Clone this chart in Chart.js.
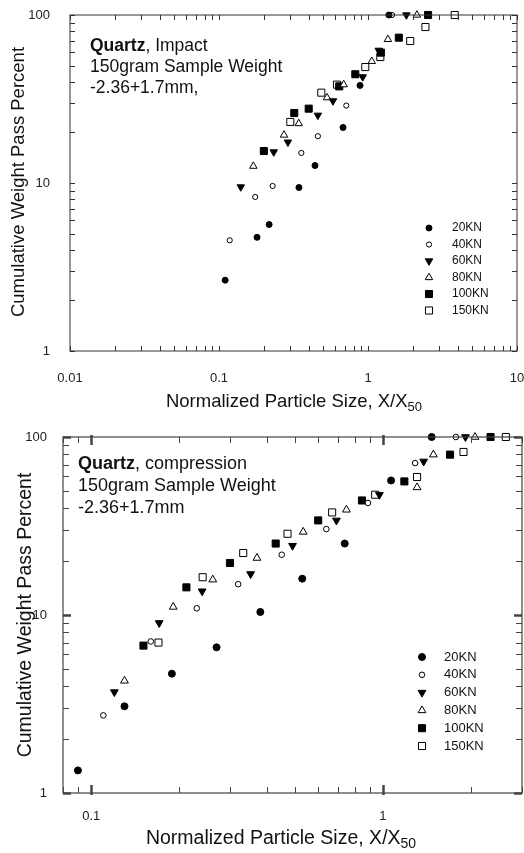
<!DOCTYPE html>
<html>
<head>
<meta charset="utf-8">
<script src="https://cdn.jsdelivr.net/npm/chart.js@4.4.1/dist/chart.umd.min.js"></script>
<style>
  body { margin: 0; background: #fff; overflow: hidden; }
  .box { position: absolute; left: 0; }
</style>
</head>
<body>
<div class="box" style="top:0;width:524px;height:420px"><canvas id="impact"></canvas></div>
<div class="box" style="top:420px;width:528px;height:433px"><canvas id="compress"></canvas></div>
<script>
const seriesNames = ['20KN', '40KN', '60KN', '80KN', '100KN', '150KN'];

// impact: X/X50 and cumulative weight pass %
const imp20x = [0.110, 0.180, 0.217, 0.344, 0.441, 0.680, 0.884, 1.38];
const imp20y = [2.64, 4.75, 5.66, 9.4, 12.7, 21.4, 38.1, 100];
const imp40x = [0.118, 0.175, 0.229, 0.357, 0.461, 0.715, 1.45];
const imp40y = [4.56, 8.26, 9.6, 15.1, 19.0, 28.9, 100];
const imp60x = [0.140, 0.233, 0.290, 0.461, 0.582, 0.921, 1.18, 1.81];
const imp60y = [9.47, 15.3, 17.5, 25.3, 30.8, 42.8, 61.6, 100];
const imp80x = [0.170, 0.273, 0.343, 0.531, 0.687, 1.06, 1.36, 2.13];
const imp80y = [12.6, 19.3, 22.6, 32.2, 38.5, 53.0, 71.6, 100];
const imp100x = [0.200, 0.320, 0.400, 0.641, 0.822, 1.22, 1.61, 2.53];
const imp100y = [15.5, 26.1, 27.7, 37.6, 44.4, 59.7, 73.3, 100];
const imp150x = [0.301, 0.486, 0.619, 0.959, 1.21, 1.92, 2.43, 3.82];
const imp150y = [23.1, 34.5, 38.5, 49.0, 56.2, 70.0, 84.8, 100];

// compression
const com20x = [0.090, 0.130, 0.189, 0.269, 0.380, 0.529, 0.740, 1.067, 1.47];
const com20y = [1.34, 3.07, 4.68, 6.58, 10.4, 16.0, 25.2, 57.0, 100];
const com40x = [0.110, 0.160, 0.230, 0.319, 0.450, 0.640, 0.889, 1.29, 1.78];
const com40y = [2.73, 7.1, 10.9, 14.9, 21.8, 30.4, 42.6, 71.4, 100];
const com60x = [0.120, 0.171, 0.240, 0.352, 0.490, 0.693, 0.973, 1.38, 1.92];
const com60y = [3.69, 9.02, 13.6, 17.0, 24.5, 34.0, 47.4, 72.9, 100];
const com80x = [0.130, 0.191, 0.261, 0.370, 0.533, 0.750, 1.31, 1.49, 2.07];
const com80y = [4.27, 11.1, 15.8, 20.9, 29.3, 39.0, 52.1, 79.6, 100];
const com100x = [0.151, 0.212, 0.299, 0.429, 0.600, 0.848, 1.185, 1.70, 2.34];
const com100y = [6.73, 14.3, 19.6, 25.2, 34.0, 44.0, 56.3, 79.6, 100];
const com150x = [0.170, 0.241, 0.332, 0.471, 0.670, 0.941, 1.31, 1.89, 2.64];
const com150y = [7.0, 16.3, 22.3, 28.6, 37.7, 47.4, 59.6, 82.4, 100];

// tick labels
const impXLabels = [0.01, 0.1, 1, 10];
const comXLabels = [0.1, 1];
const yLabels = [1, 10, 100];

const FONT = "'Liberation Sans', Arial, sans-serif";
const styles = [
  { pointStyle: 'circle', rotation: 0, fill: true },
  { pointStyle: 'circle', rotation: 0, fill: false },
  { pointStyle: 'triangle', rotation: 180, fill: true },
  { pointStyle: 'triangle', rotation: 0, fill: false },
  { pointStyle: 'rect', rotation: 0, fill: true },
  { pointStyle: 'rect', rotation: 0, fill: false }
];

function pts(xs, ys) { return xs.map((x, i) => ({ x: x, y: ys[i] })); }

function isPow10(v) { const l = Math.log10(v); return Math.abs(l - Math.round(l)) < 1e-9; }

// decade ticks 1..9 x 10^n between min and max
function logTicks(min, max) {
  const out = [];
  for (let e = Math.floor(Math.log10(min)); e <= Math.ceil(Math.log10(max)); e++) {
    for (let m = 1; m < 10; m++) {
      const v = +(m * Math.pow(10, e)).toPrecision(6);
      if (v >= min - 1e-12 && v <= max + 1e-12) out.push(v);
    }
  }
  return out;
}

function makeDatasets(series, sizes) {
  return series.map((s, i) => ({
    label: seriesNames[i],
    data: pts(s[0], s[1]),
    pointStyle: styles[i].pointStyle,
    rotation: styles[i].rotation,
    radius: sizes[i],
    backgroundColor: styles[i].fill ? '#000' : '#fff',
    borderColor: '#000',
    borderWidth: 1,
    clip: false
  }));
}

const frameTicks = {
  id: 'frameTicks',
  afterDraw(chart, args, o) {
    const { ctx, chartArea: a } = chart;
    const x = chart.scales.x, y = chart.scales.y;
    ctx.save();
    ctx.strokeStyle = o.color;
    ctx.lineWidth = o.lineWidth;
    ctx.strokeRect(a.left, a.top, a.right - a.left, a.bottom - a.top);
    const tick = (x1, y1, x2, y2, major) => {
      ctx.lineWidth = major ? o.majorWidth : 1;
      ctx.beginPath(); ctx.moveTo(x1, y1); ctx.lineTo(x2, y2); ctx.stroke();
    };
    x.ticks.forEach(t => {
      const major = isPow10(t.value);
      const px = Math.round(x.getPixelForValue(t.value)) + 0.5;
      const len = major ? o.majorLen : o.minorLen;
      const out = major ? o.majorOut : 0;
      tick(px, a.bottom + out, px, a.bottom - len, major);
      tick(px, a.top - out, px, a.top + len, major);
    });
    y.ticks.forEach(t => {
      const major = isPow10(t.value);
      const py = Math.round(y.getPixelForValue(t.value)) + 0.5;
      const len = major ? o.majorLen : o.minorLen;
      tick(a.left, py, a.left + len, py, major);
      tick(a.right, py, a.right - len, py, major);
    });
    ctx.restore();
  }
};

const textLayer = {
  id: 'textLayer',
  afterDraw(chart, args, o) {
    const ctx = chart.ctx;
    const a = chart.chartArea;
    ctx.save();
    ctx.fillStyle = '#111';
    ctx.textBaseline = 'alphabetic';
    // note lines
    ctx.textAlign = 'left';
    ctx.font = 'bold ' + o.noteSize + 'px ' + FONT;
    ctx.fillText(o.noteBold, o.noteX, o.noteY);
    const w = ctx.measureText(o.noteBold).width;
    ctx.font = o.noteSize + 'px ' + FONT;
    ctx.fillText(o.noteRest, o.noteX + w, o.noteY);
    o.noteLines.forEach((l, i) => ctx.fillText(l, o.noteX, o.noteY + (i + 1) * o.noteGap));
    // x title with subscript
    const main = 'Normalized Particle Size, X/X', sub = '50';
    ctx.font = o.titleSize + 'px ' + FONT;
    const mw = ctx.measureText(main).width;
    ctx.font = Math.round(o.titleSize * 0.72) + 'px ' + FONT;
    const sw = ctx.measureText(sub).width;
    const sx = o.xTitleCx - (mw + sw) / 2;
    ctx.font = o.titleSize + 'px ' + FONT;
    ctx.fillText(main, sx, o.xTitleY);
    ctx.font = Math.round(o.titleSize * 0.72) + 'px ' + FONT;
    ctx.fillText(sub, sx + mw, o.xTitleY + o.titleSize * 0.22);
    // y title
    ctx.font = o.titleSize + 'px ' + FONT;
    ctx.translate(o.yTitleX, (a.top + a.bottom) / 2 + o.yTitleShift);
    ctx.rotate(-Math.PI / 2);
    ctx.textAlign = 'center';
    ctx.fillText('Cumulative Weight Pass Percent', 0, 0);
    ctx.restore();
  }
};

const keyLayer = {
  id: 'keyLayer',
  afterDraw(chart, args, o) {
    const ctx = chart.ctx;
    ctx.save();
    ctx.font = o.size + 'px ' + FONT;
    ctx.textBaseline = 'middle';
    ctx.textAlign = 'left';
    chart.data.datasets.forEach((d, i) => {
      const cy = o.y + i * o.gap;
      ctx.fillStyle = d.backgroundColor;
      ctx.strokeStyle = d.borderColor;
      ctx.lineWidth = 1;
      Chart.helpers.drawPoint(ctx, { pointStyle: d.pointStyle, rotation: d.rotation, radius: d.radius, borderWidth: 1 }, o.x, cy);
      ctx.fillStyle = '#111';
      ctx.fillText(d.label, o.tx, cy);
    });
    ctx.restore();
  }
};

function makeChart(id, series, sizes, cfg) {
  const tickFont = { family: FONT, size: 13 };
  return new Chart(document.getElementById(id), {
    type: 'scatter',
    data: { datasets: makeDatasets(series, sizes) },
    options: {
      responsive: true,
      maintainAspectRatio: false,
      animation: false,
      layout: { padding: { left: 0, right: cfg.padRight, top: cfg.padTop, bottom: 0 } },
      plugins: {
        legend: { display: false },
        tooltip: { enabled: false },
        frameTicks: cfg.frame,
        textLayer: cfg.text,
        keyLayer: cfg.key
      },
      scales: {
        x: {
          type: 'logarithmic', min: cfg.xMin, max: cfg.xMax,
          grid: { display: false }, border: { display: false },
          afterBuildTicks: s => { s.ticks = logTicks(cfg.xMin, cfg.xMax).map(v => ({ value: v })); },
          afterFit: s => { s.height = cfg.xHeight; s.paddingLeft = 0; s.paddingRight = 0; },
          ticks: {
            autoSkip: false, maxRotation: 0, padding: cfg.xPad, color: '#222', font: tickFont,
            callback: v => cfg.xLabels.some(l => Math.abs(l - v) < 1e-9) ? String(v) : ''
          }
        },
        y: {
          type: 'logarithmic', min: 1, max: 100,
          grid: { display: false }, border: { display: false },
          afterBuildTicks: s => { s.ticks = logTicks(1, 100).map(v => ({ value: v })); },
          afterFit: s => { s.width = cfg.yWidth; s.paddingTop = 0; s.paddingBottom = 0; },
          ticks: {
            autoSkip: false, padding: cfg.yPad, color: '#222', font: tickFont,
            callback: v => yLabels.some(l => Math.abs(l - v) < 1e-9) ? String(v) : ''
          }
        }
      }
    },
    plugins: [frameTicks, textLayer, keyLayer]
  });
}

makeChart('impact',
  [[imp20x, imp20y], [imp40x, imp40y], [imp60x, imp60y], [imp80x, imp80y], [imp100x, imp100y], [imp150x, imp150y]],
  [3, 2.6, 4.3, 4.3, 5, 5],
  {
    xMin: 0.01, xMax: 10, xLabels: impXLabels,
    padRight: 7, padTop: 15, xHeight: 69, yWidth: 70, xPad: 12, yPad: 12,
    frame: { color: '#333', lineWidth: 1, majorLen: 5, minorLen: 5, majorOut: 0, majorWidth: 1 },
    text: {
      noteBold: 'Quartz', noteRest: ', Impact', noteLines: ['150gram Sample Weight', '-2.36+1.7mm,'],
      noteX: 90, noteY: 51, noteGap: 21, noteSize: 17.5,
      titleSize: 18.5, xTitleCx: 294, xTitleY: 407, yTitleX: 24, yTitleShift: -1
    },
    key: { x: 429, y: 228, gap: 16.5, tx: 452, size: 12 }
  });

makeChart('compress',
  [[com20x, com20y], [com40x, com40y], [com60x, com60y], [com80x, com80y], [com100x, com100y], [com150x, com150y]],
  [3.5, 2.8, 4.5, 4.5, 5, 5],
  {
    xMin: 0.08, xMax: 3, xLabels: comXLabels,
    padRight: 6, padTop: 17, xHeight: 60, yWidth: 63, xPad: 8, yPad: 8,
    frame: { color: '#444', lineWidth: 1.2, majorLen: 8, minorLen: 6, majorOut: 2, majorWidth: 2.5 },
    text: {
      noteBold: 'Quartz', noteRest: ', compression', noteLines: ['150gram Sample Weight', '-2.36+1.7mm'],
      noteX: 78, noteY: 49, noteGap: 22, noteSize: 18,
      titleSize: 19.5, xTitleCx: 281, xTitleY: 424, yTitleX: 31, yTitleShift: 0
    },
    key: { x: 422, y: 237, gap: 17.8, tx: 444, size: 13 }
  });
</script>
</body>
</html>
